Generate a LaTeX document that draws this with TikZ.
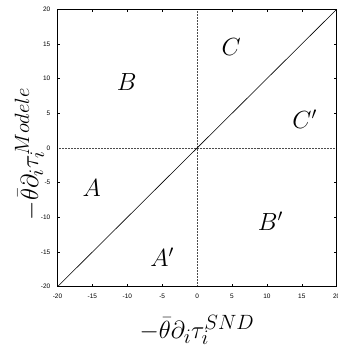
\documentclass[tikz,border=0pt]{standalone}
\usepackage{fontspec}
\newfontfamily\ticksf{Liberation Sans}
\begin{document}
\begin{tikzpicture}[x=1bp,y=1bp,
  ticklab/.style={font=\ticksf\fontsize{6.5}{7}\selectfont, inner sep=0pt},
  region/.style={font=\fontsize{26}{30}\selectfont, inner sep=0pt},
  axlab/.style={font=\fontsize{31}{36}\selectfont, inner sep=0pt},
  frame/.style={line width=1bp, black},
  zeroline/.style={densely dotted, line width=0.5bp, black!70},
  diag/.style={line width=0.6bp, black}]
\useasboundingbox (0,0) rectangle (338,349);
\begin{scope}[shift={(197.1,201.0)}, x=6.98bp, y=6.935bp]
  \coordinate (ll) at (-20,-20);
  \coordinate (ur) at (20,20);
  \coordinate (xl) at (-20,0);
  \coordinate (xr) at (20,0);
  \coordinate (yb) at (0,-20);
  \coordinate (yt) at (0,20);
  \draw[zeroline] (xl) -- (xr);
  \draw[zeroline] (yb) -- (yt);
  \draw[diag] (ll) -- (ur);
  \foreach \v in {-15,-10,-5,5,10,15} {
    \draw[line width=0.6bp] (\v,-20) -- ++(0,3bp);
    \draw[line width=0.6bp] (\v,20) -- ++(0,-3bp);
    \draw[line width=0.6bp] (-20,\v) -- ++(3bp,0);
    \draw[line width=0.6bp] (20,\v) -- ++(-3bp,0);
  }
  \draw[frame] (ll) rectangle (ur);
  \foreach \v in {-20,-15,-10,-5,0,5,10,15,20} {
    \node[ticklab, anchor=east] at ([xshift=-7bp]-20,\v) {\v};
    \node[ticklab, anchor=north] at ([yshift=-7bp]\v,-20) {\v};
  }
  \node[region] (B) at (-10.1,9.5) {$B$};
  \node[region] (C) at (4.9,14.5) {$C$};
  \node[region] (Cp) at (15.4,4.2) {$C'$};
  \node[region] (A) at (-15.1,-5.8) {$A$};
  \node[region] (Bp) at (10.5,-10.6) {$B'$};
  \node[region] (Ap) at (-5.0,-15.8) {$A'$};
\end{scope}
\node[axlab, anchor=base] (xlab) at (197,11) {$-\bar\theta\partial_i\tau_i^{SND}$};
\node[axlab, anchor=base, rotate=90] (ylab) at (38,195) {$-\bar\theta\partial_i\tau_i^{Modele}$};
\end{tikzpicture}
\end{document}
